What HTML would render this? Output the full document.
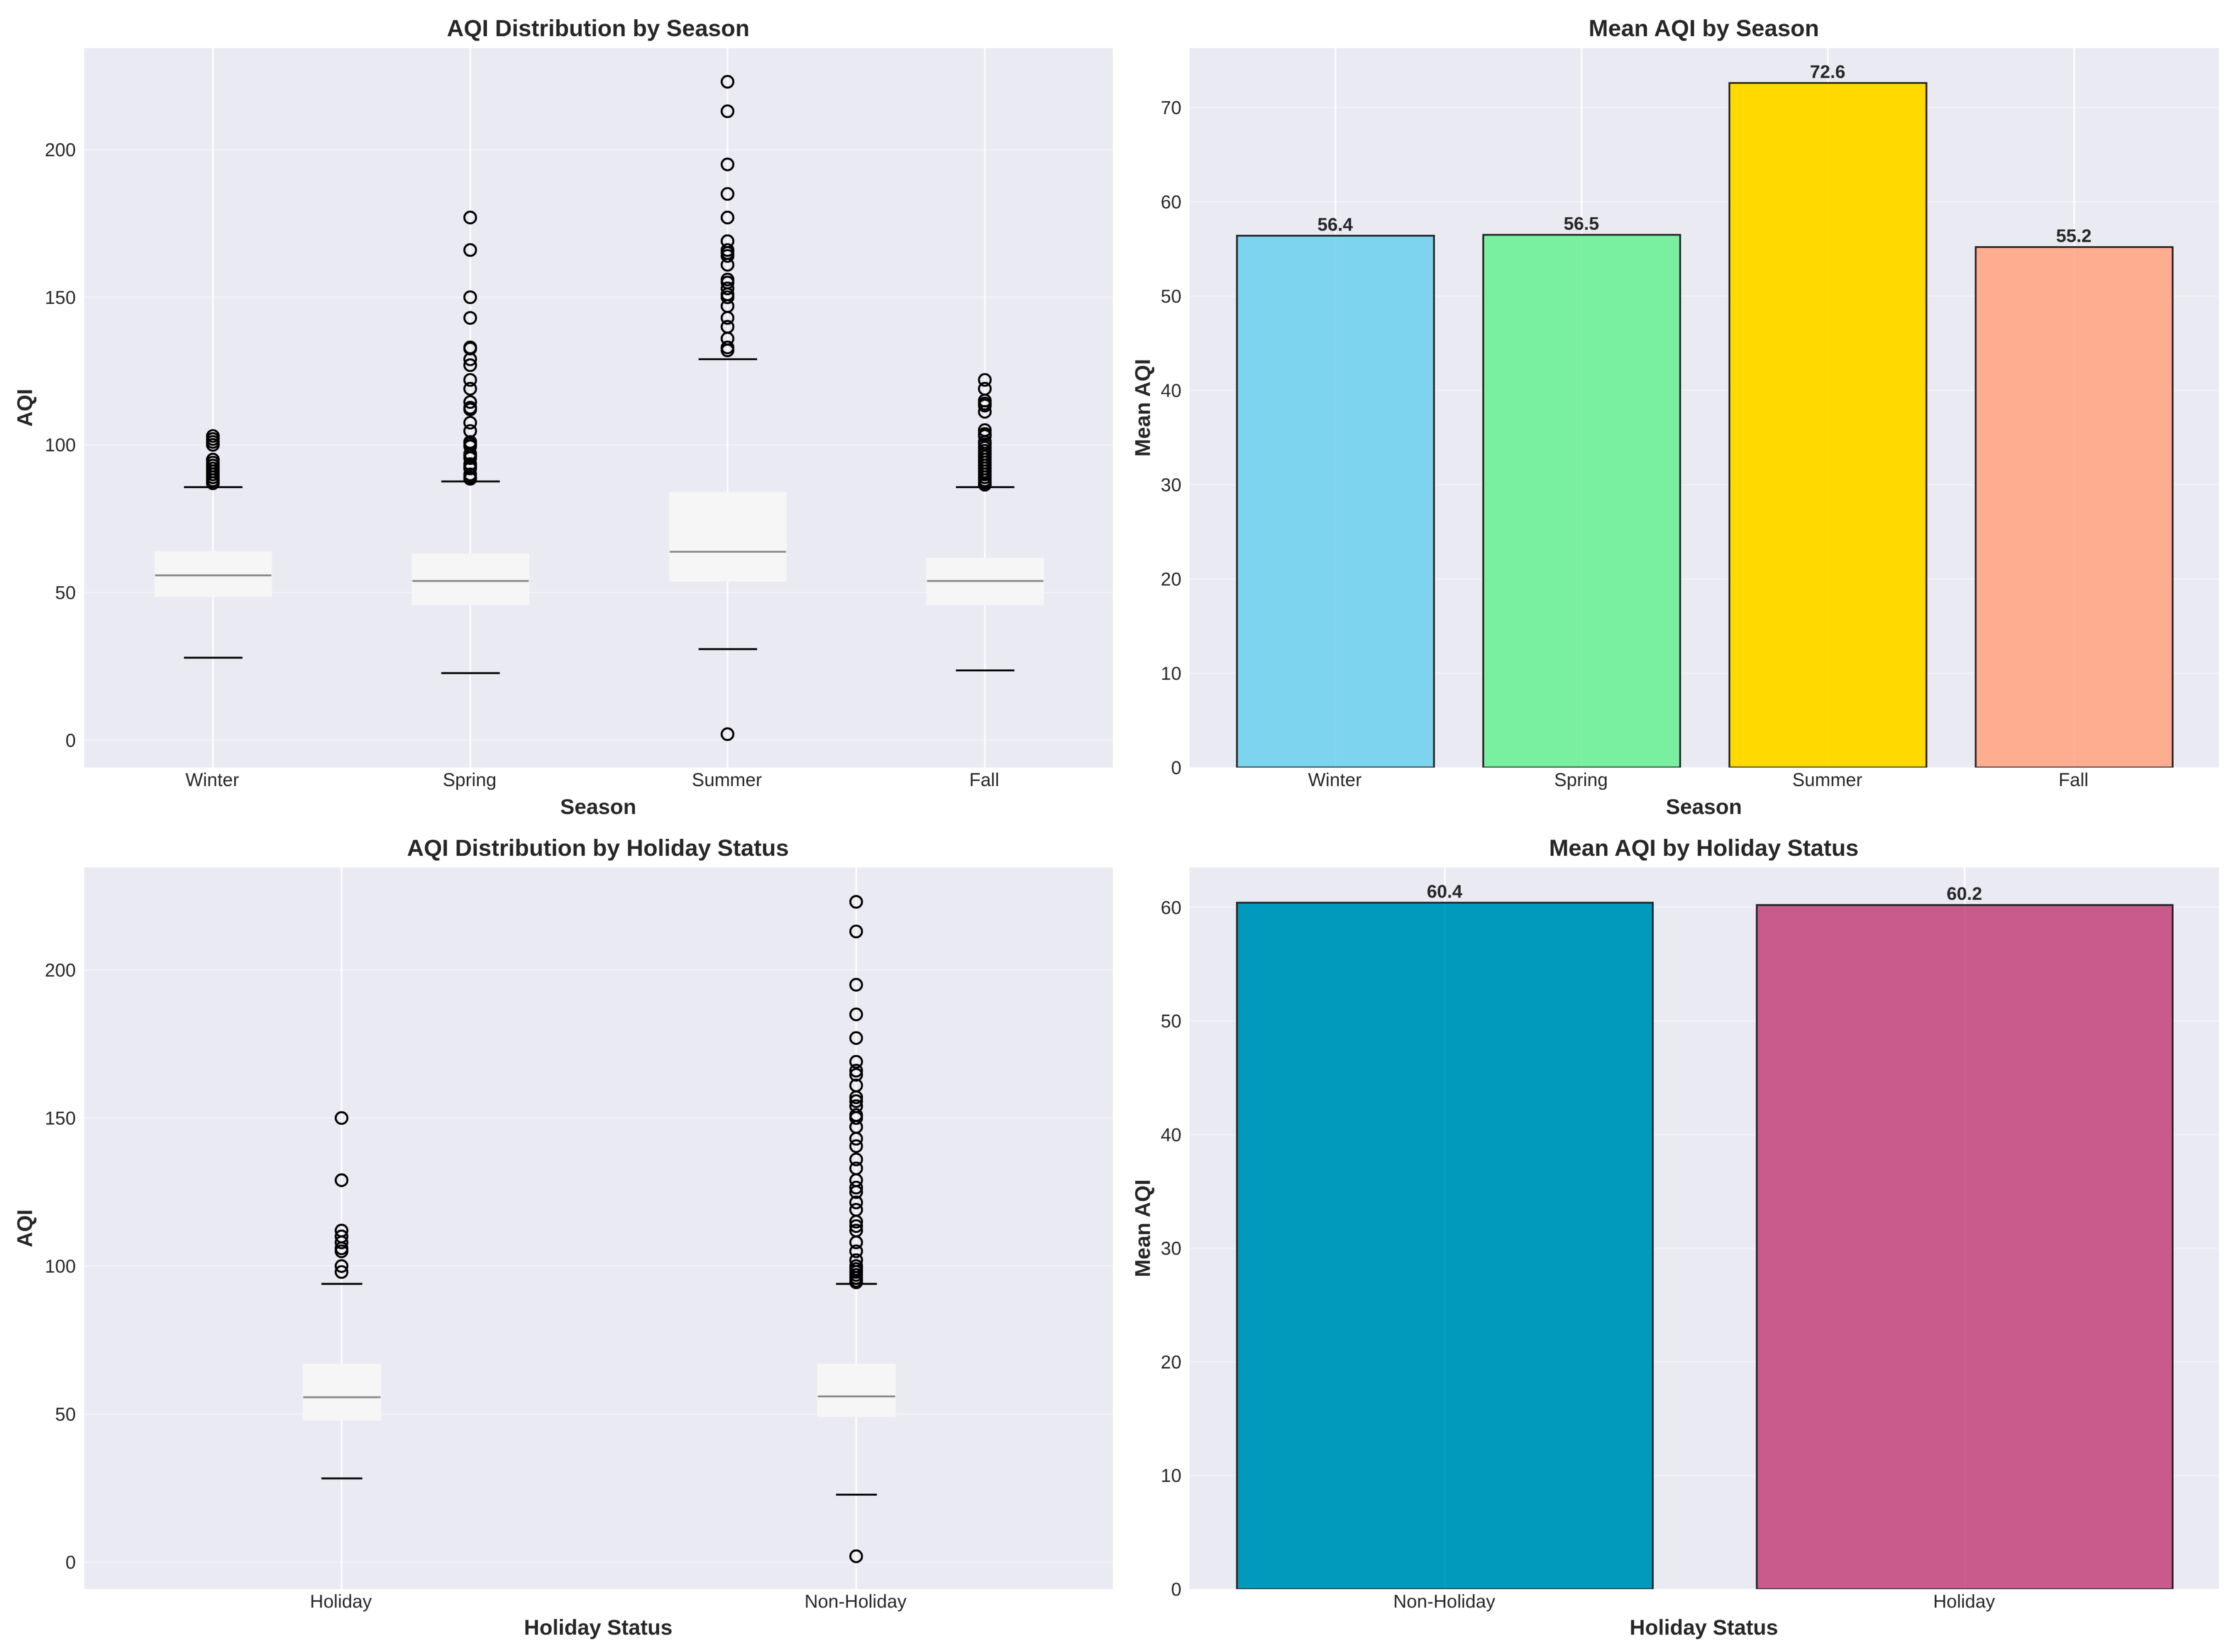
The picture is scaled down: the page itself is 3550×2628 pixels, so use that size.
<!DOCTYPE html>
<html lang="en">
<head>
<meta charset="utf-8">
<title>AQI by Season and Holiday Status</title>
<style>
html,body{margin:0;padding:0;background:#fff;}
svg{display:block;filter:blur(0.6px);}
text{font-family:"Liberation Sans",Arial,sans-serif;fill:#262626;}
.title{font-size:37.2px;font-weight:bold;text-anchor:middle;}
.axis-label{font-size:34px;font-weight:bold;text-anchor:middle;}
.tick{font-size:29.5px;}
.value{font-size:29px;font-weight:bold;text-anchor:middle;}
</style>
</head>
<body>
<svg id="chart" xmlns="http://www.w3.org/2000/svg" width="3550" height="2628" viewBox="0 0 3550 2628">
  <defs>
    <clipPath id="clip-top-row"><rect x="1892" y="0" width="1637" height="1221"/></clipPath>
    <clipPath id="clip-bottom-row"><rect x="1892" y="1300" width="1637" height="1228"/></clipPath>
  </defs>
  <rect x="0" y="0" width="3550" height="2628" fill="#ffffff"/>
  <g id="panel-a"></g>
  <g id="panel-b"></g>
  <g id="panel-c"></g>
  <g id="panel-d"></g>

  <text class="title" x="951.5" y="57.5">AQI Distribution by Season</text>
  <text class="axis-label" x="951.5" y="1295">Season</text>
  <text class="axis-label" transform="translate(51,648.7) rotate(-90)">AQI</text>

  <text class="title" x="2710" y="57.5">Mean AQI by Season</text>
  <text class="axis-label" x="2710" y="1295">Season</text>
  <text class="axis-label" transform="translate(1829,648.7) rotate(-90)">Mean AQI</text>

  <text class="title" x="951" y="1361.5">AQI Distribution by Holiday Status</text>
  <text class="axis-label" x="951.5" y="2600.5">Holiday Status</text>
  <text class="axis-label" transform="translate(51,1954) rotate(-90)">AQI</text>

  <text class="title" x="2710" y="1361.5">Mean AQI by Holiday Status</text>
  <text class="axis-label" x="2710" y="2600.5">Holiday Status</text>
  <text class="axis-label" transform="translate(1829,1954) rotate(-90)">Mean AQI</text>
</svg>
<script>
/* ---------- data ---------- */
const seasonCategories = ["Winter", "Spring", "Summer", "Fall"];
const seasonQ1 = [48.4, 45.7, 53.7, 45.7];
const seasonMedian = [55.8, 53.9, 63.8, 53.9];
const seasonQ3 = [64, 63.2, 84, 61.7];
const seasonWhiskerLow = [27.9, 22.7, 30.8, 23.6];
const seasonWhiskerHigh = [85.7, 87.6, 129, 85.7];
const seasonFliersWinter = [87, 88, 89, 90, 91, 92, 93, 94, 95, 100, 101, 102, 103];
const seasonFliersSpring = [177, 166, 150, 143, 133, 132.6, 129, 127, 122, 119, 114.5, 112.6, 112, 107.5, 104.7, 101, 100.2, 99.5, 97, 96.3, 95.5, 93.5, 92.7, 92, 90, 89, 88.5];
const seasonFliersSummer = [223, 213, 195, 185, 177, 169, 166, 165, 164, 161, 156, 155, 153, 151, 150, 147, 143, 140, 136, 133, 132, 2];
const seasonFliersFall = [122, 119, 115, 114, 113.3, 111.2, 105, 103.7, 103, 101, 100.2, 99, 98, 97, 96, 95, 94, 93, 92, 91, 90, 89, 88, 87, 86.5];
const boxTicks = [0, 50, 100, 150, 200];

const seasonMeans = [56.4, 56.5, 72.6, 55.2];
const seasonBarColors = ["#7DD4EE", "#78F0A0", "#FFD900", "#FFAD90"];
const seasonBarTicks = [0, 10, 20, 30, 40, 50, 60, 70];

const holidayCategories = ["Holiday", "Non-Holiday"];
const holidayQ1 = [47.8, 49];
const holidayMedian = [55.7, 56];
const holidayQ3 = [67, 67];
const holidayWhiskerLow = [28.3, 22.8];
const holidayWhiskerHigh = [94, 94];
const holidayFliersHoliday = [150, 129, 112, 110, 108, 106, 105, 100, 98];
const holidayFliersNon = [223, 213, 195, 185, 177, 169, 166, 164.6, 161, 157, 155.7, 154, 151, 150, 147, 143, 140.5, 136, 133, 129, 126.5, 125, 121.5, 119, 115, 113.5, 112, 108, 105, 102, 100, 99, 98, 97, 96, 95, 94.5, 2];

const holidayBarCategories = ["Non-Holiday", "Holiday"];
const holidayMeans = [60.4, 60.2];
const holidayBarColors = ["#019ABD", "#C85B8C"];
const holidayBarTicks = [0, 10, 20, 30, 40, 50, 60];

/* ---------- helpers ---------- */
const SVGNS = "http://www.w3.org/2000/svg";
function make(tag, attrs, parent) {
  const node = document.createElementNS(SVGNS, tag);
  for (const k in attrs) node.setAttribute(k, attrs[k]);
  parent.appendChild(node);
  return node;
}
function linear(d0, d1, r0, r1) {
  return function (v) { return r0 + (v - d0) * (r1 - r0) / (d1 - d0); };
}
function slug(s) { return s.toLowerCase().replace(/[^a-z0-9]+/g, "-"); }

function drawFrame(g, prefix, box, x, y, xPositions, xLabels, yTicks) {
  const bg = make("rect", { x: box.left, y: box.top, width: box.right - box.left, height: box.bottom - box.top, fill: "#EAEAF2" }, g);
  
  

  yTicks.forEach(function (t) {
    const line = make("line", { x1: box.left, x2: box.right, y1: y(t), y2: y(t), stroke: "#ffffff", "stroke-opacity": 0.3, "stroke-width": 2.8 }, g);
    
    
    const label = make("text", { class: "tick", x: box.labelRight, y: y(t) + 10.5, "text-anchor": "end" }, g);
    label.textContent = String(t);
    
    
  });

  xPositions.forEach(function (p, i) {
    const line = make("line", { x1: x(p), x2: x(p), y1: box.top, y2: box.bottom, stroke: "#ffffff", "stroke-width": 2.4 }, g);
    
    
    const label = make("text", { class: "tick", x: x(p) - 1, y: box.bottom + 29.5, "text-anchor": "middle" }, g);
    label.textContent = xLabels[i];
    
    
  });
}

function drawBoxplot(g, prefix, box, cats, q1, med, q3, lo, hi, fliers, yMin, yMax, boxWidth, capWidth) {
  const x = linear(0.5, cats.length + 0.5, box.mapLeft, box.mapRight);
  const y = linear(yMin, yMax, box.bottom, box.top);
  const positions = cats.map(function (c, i) { return i + 1; });
  drawFrame(g, prefix, box, x, y, positions, cats, boxTicks);

  cats.forEach(function (c, i) {
    const cx = x(i + 1);
    const name = prefix + "-" + slug(c);

    const rect = make("rect", { x: cx - boxWidth / 2 + 0.5, y: y(q3[i]), width: boxWidth, height: y(q1[i]) - y(q3[i]), fill: "#F6F6F7" }, g);
    
    

    const median = make("line", { x1: cx - boxWidth / 2 + 1.5, x2: cx + boxWidth / 2 - 0.5, y1: y(med[i]), y2: y(med[i]), stroke: "#8A8A8A", "stroke-width": 3 }, g);
    
    

    const capLow = make("line", { x1: cx - capWidth / 2 + 0.5, x2: cx + capWidth / 2 + 0.5, y1: y(lo[i]), y2: y(lo[i]), stroke: "#000000", "stroke-width": 3 }, g);
    
    

    const capHigh = make("line", { x1: cx - capWidth / 2 + 0.5, x2: cx + capWidth / 2 + 0.5, y1: y(hi[i]), y2: y(hi[i]), stroke: "#000000", "stroke-width": 3 }, g);
    
    

    fliers[i].forEach(function (v) {
      const dot = make("circle", { cx: cx, cy: y(v), r: 9.3, fill: "none", stroke: "#000000", "stroke-width": 3.2 }, g);
      
      
    });
  });
}

function drawBars(g, prefix, box, cats, values, colors, ticks, yMax, xPad, clipId) {
  const x = linear(-xPad, cats.length - 1 + xPad, box.mapLeft, box.mapRight);
  const y = linear(0, yMax, box.bottom, box.top);
  const positions = cats.map(function (c, i) { return i; });
  drawFrame(g, prefix, box, x, y, positions, cats, ticks);
  const unit = x(1) - x(0);

  cats.forEach(function (c, i) {
    const left = x(i) - 0.4 * unit;
    const w = 0.8 * unit;
    const name = prefix + "-" + slug(c);

    const bar = make("rect", { x: left, y: y(values[i]), width: w, height: box.bottom - y(values[i]), fill: colors[i], stroke: "#222222", "stroke-width": 2.8, "clip-path": "url(#" + clipId + ")" }, g);
    
    

    const sheen = make("line", { x1: x(i), x2: x(i), y1: y(values[i]) + 2, y2: box.bottom, stroke: "#ffffff", "stroke-opacity": 0.04, "stroke-width": 2.6 }, g);
    
    

    const label = make("text", { class: "value", x: x(i) - 0.5, y: y(values[i]) - 8 }, g);
    label.textContent = values[i].toFixed(1);
    
    
  });
}

/* ---------- panels ---------- */
drawBoxplot(
  document.getElementById("panel-a"), "season-boxplot",
  { left: 134, right: 1770, top: 76.5, bottom: 1221, mapLeft: 134, mapRight: 1771, labelRight: 120.5 },
  seasonCategories, seasonQ1, seasonMedian, seasonQ3, seasonWhiskerLow, seasonWhiskerHigh,
  [seasonFliersWinter, seasonFliersSpring, seasonFliersSummer, seasonFliersFall],
  -9.3, 234.4, 187, 93
);

drawBars(
  document.getElementById("panel-b"), "season-bar",
  { left: 1892, right: 3529, top: 76.5, bottom: 1221, mapLeft: 1893, mapRight: 3530, labelRight: 1879 },
  seasonCategories, seasonMeans, seasonBarColors, seasonBarTicks, 76.3, 0.59, "clip-top-row"
);

drawBoxplot(
  document.getElementById("panel-c"), "holiday-boxplot",
  { left: 134, right: 1770, top: 1380, bottom: 2528, mapLeft: 134, mapRight: 1771, labelRight: 120.5 },
  holidayCategories, holidayQ1, holidayMedian, holidayQ3, holidayWhiskerLow, holidayWhiskerHigh,
  [holidayFliersHoliday, holidayFliersNon],
  -9.1, 234.6, 125, 65
);

drawBars(
  document.getElementById("panel-d"), "holiday-bar",
  { left: 1892, right: 3529, top: 1380, bottom: 2528, mapLeft: 1893, mapRight: 3530, labelRight: 1879 },
  holidayBarCategories, holidayMeans, holidayBarColors, holidayBarTicks, 63.5, 0.49, "clip-bottom-row"
);
</script>
</body>
</html>
